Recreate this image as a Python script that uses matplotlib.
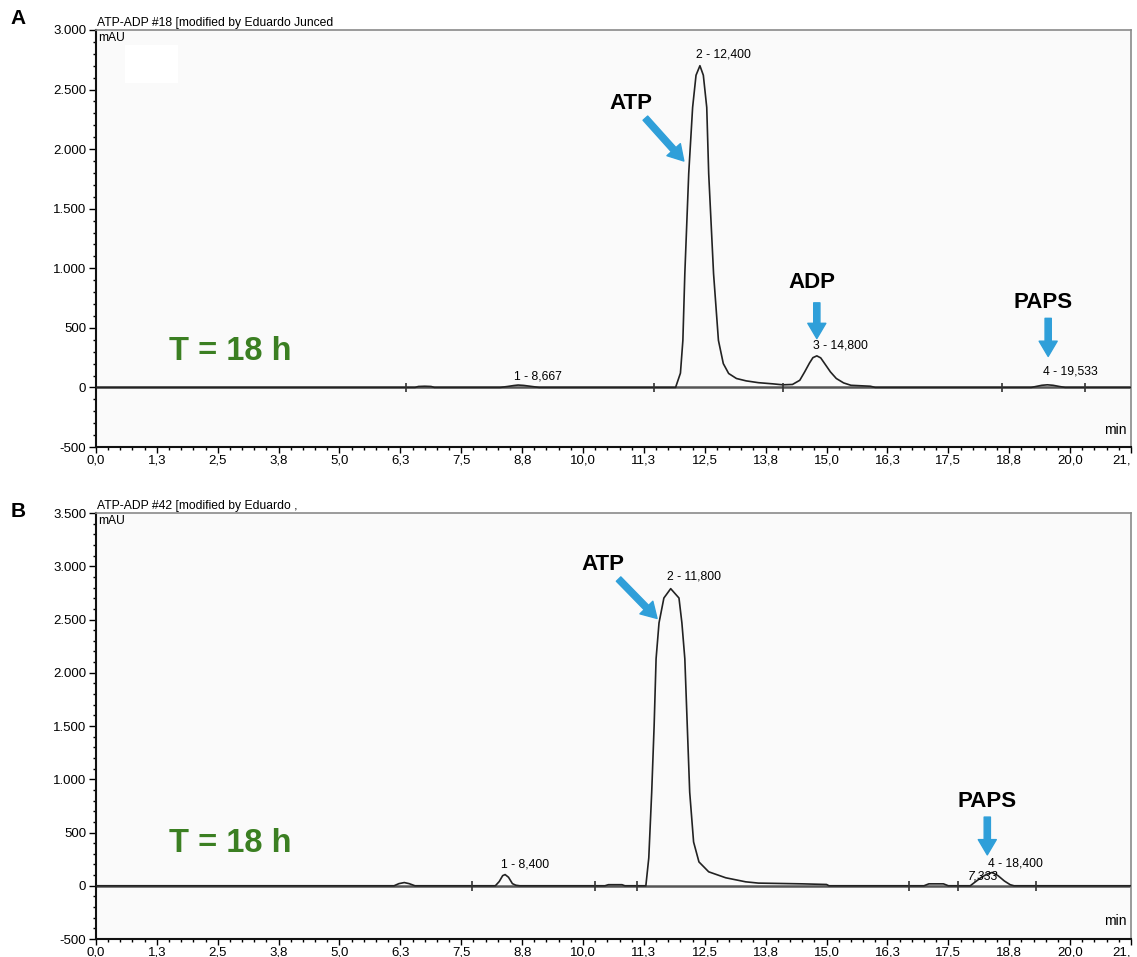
import matplotlib
matplotlib.use("Agg")
import matplotlib.pyplot as plt
from matplotlib.ticker import MultipleLocator, FixedLocator, FuncFormatter
from matplotlib.patches import Rectangle

plt.rcParams["font.family"] = ["Liberation Sans", "DejaVu Sans"]

# ---- panel A : ATP-ADP #18 ----
tiempo_a = [0.0, 6.55, 6.62, 6.75, 6.88, 6.95, 8.3, 8.45, 8.58, 8.667, 8.78, 8.95, 9.1,
            11.45, 11.9, 12.0, 12.05, 12.09, 12.17, 12.25, 12.32, 12.4, 12.47, 12.54,
            12.58, 12.68, 12.78, 12.88, 12.99, 13.15, 13.35, 13.6, 13.9, 14.1, 14.3,
            14.45, 14.55, 14.65, 14.72, 14.8, 14.88, 14.97, 15.08, 15.2, 15.35, 15.5,
            15.9, 16.0, 19.2, 19.3, 19.42, 19.533, 19.65, 19.78, 19.9, 20.3, 21.25]
senal_a = [0, 0, 8, 10, 8, 0, 0, 8, 16, 20, 17, 8, 0,
           0, 0, 120, 395, 955, 1795, 2350, 2620, 2700, 2620, 2350,
           1795, 955, 395, 200, 117, 75, 55, 40, 30, 22, 25,
           60, 130, 205, 250, 265, 248, 195, 130, 75, 38, 18,
           10, 0, 0, 8, 18, 22, 18, 8, 0, 0, 0]
etiquetas_a = ["1 - 8,667", "2 - 12,400", "3 - 14,800", "4 - 19,533"]
picos_t_a = [8.667, 12.4, 14.8, 19.533]
picos_h_a = [20, 2700, 265, 22]
marcas_a = [6.37, 11.45, 14.1, 18.6, 20.3]

# ---- panel B : ATP-ADP #42 ----
tiempo_b = [0.0, 6.12, 6.22, 6.33, 6.43, 6.55, 8.2, 8.28, 8.35, 8.4, 8.47, 8.55, 8.62, 8.7,
            10.45, 10.52, 10.8, 10.86, 11.29, 11.35, 11.41, 11.46, 11.5, 11.56, 11.66,
            11.8, 11.97, 12.03, 12.09, 12.14, 12.19, 12.27, 12.38, 12.58, 12.93, 13.34,
            13.6, 14.5, 15.0, 15.05, 17.0, 17.1, 17.4, 17.5, 17.95, 18.05, 18.18, 18.3,
            18.4, 18.52, 18.65, 18.77, 18.85, 21.25]
senal_b = [0, 0, 20, 30, 20, 0, 0, 40, 95, 105, 80, 20, 5, 0,
           0, 10, 10, 0, 0, 262, 879, 1505, 2132, 2468, 2702,
           2790, 2702, 2468, 2132, 1505, 879, 411, 224, 131, 75, 37,
           25, 18, 12, 0, 0, 18, 18, 0, 0, 35, 80, 110,
           125, 95, 45, 10, 0, 0]
etiquetas_b = ["1 - 8,400", "2 - 11,800", "4 - 18,400"]
picos_t_b = [8.4, 11.8, 18.4]
picos_h_b = [105, 2790, 125]
marcas_b = [7.73, 10.25, 11.1, 16.7, 17.7, 19.3]

VERDE = "#3b7f22"
AZUL = "#2f9fd9"


def fmt_x(v, pos):
    r = int(v * 10 + 0.5) / 10
    if r > 21:
        return "21,"  # la etiqueta final queda cortada en el original
    return f"{r:.1f}".replace(".", ",")


def fmt_y(v, pos):
    return f"{int(round(v)):,}".replace(",", ".")


def preparar_eje(ax, ymax, titulo):
    ax.set_facecolor("#fafafa")
    ax.set_xlim(0, 21.25)
    ax.set_ylim(-500, ymax)
    ax.xaxis.set_major_locator(FixedLocator([i * 1.25 for i in range(18)]))
    ax.xaxis.set_minor_locator(MultipleLocator(0.25))
    ax.yaxis.set_major_locator(MultipleLocator(500))
    ax.yaxis.set_minor_locator(MultipleLocator(100))
    ax.xaxis.set_major_formatter(FuncFormatter(fmt_x))
    ax.yaxis.set_major_formatter(FuncFormatter(fmt_y))
    ax.tick_params(which="major", direction="out", length=5, width=1, labelsize=9.5, pad=2)
    ax.tick_params(which="minor", direction="out", length=2.5, width=1)
    ax.tick_params(axis="x", which="major", length=4, pad=1.5)
    ax.xaxis.get_major_ticks()[-1].label1.set_horizontalalignment("right")
    for lado in ["top", "right"]:
        ax.spines[lado].set_color("#8a8a8a")
        ax.spines[lado].set_linewidth(1.2)
    for lado in ["left", "bottom"]:
        ax.spines[lado].set_color("#111111")
        ax.spines[lado].set_linewidth(1.5)
    ax.axhline(0, color="#555555", lw=1.8, zorder=1)
    ax.text(0.001, 1.003, titulo, transform=ax.transAxes, ha="left", va="bottom", fontsize=8.7)
    ax.text(0.002, 0.995, "mAU", transform=ax.transAxes, ha="left", va="top", fontsize=8.7)
    ax.text(0.996, 0.025, "min", transform=ax.transAxes, ha="right", va="bottom", fontsize=10)


def flecha(ax, xy, xytext):
    ax.annotate("", xy=xy, xytext=xytext,
                arrowprops=dict(facecolor=AZUL, edgecolor=AZUL, width=4.5,
                                headwidth=13, headlength=11, shrink=0))


fig = plt.figure(figsize=(11.37, 9.57), dpi=100)
fig.patch.set_facecolor("white")

ax1 = fig.add_axes([0.0844, 0.5329, 0.9103, 0.4358])
ax2 = fig.add_axes([0.0844, 0.0188, 0.9103, 0.4451])

# panel A
preparar_eje(ax1, 3000, "ATP-ADP #18 [modified by Eduardo Junced")
ax1.add_patch(Rectangle((0.028, 0.873), 0.051, 0.091, transform=ax1.transAxes,
                        facecolor="white", edgecolor="none", zorder=0.5))
ax1.plot(tiempo_a, senal_a, color="#222222", lw=1.2, zorder=3)
ax1.vlines(marcas_a, -40, 40, color="#333333", lw=1.2, zorder=3)
off_a = [25, 40, 35, 60]
for lab, t, h, o in zip(etiquetas_a, picos_t_a, picos_h_a, off_a):
    ax1.text(t - 0.08, h + o, lab, ha="left", va="bottom", fontsize=8.7)
ax1.text(10.98, 2380, "ATP", ha="center", va="center", fontsize=16, fontweight="bold")
flecha(ax1, (12.07, 1900), (11.28, 2260))
ax1.text(14.7, 880, "ADP", ha="center", va="center", fontsize=16, fontweight="bold")
flecha(ax1, (14.8, 410), (14.8, 710))
ax1.text(19.45, 715, "PAPS", ha="center", va="center", fontsize=16, fontweight="bold")
flecha(ax1, (19.55, 260), (19.55, 580))
ax1.text(2.75, 300, "T = 18 h", ha="center", va="center", fontsize=23.5,
         fontweight="bold", color=VERDE)

# panel B
preparar_eje(ax2, 3500, "ATP-ADP #42 [modified by Eduardo ,")
ax2.plot(tiempo_b, senal_b, color="#222222", lw=1.2, zorder=3)
ax2.vlines(marcas_b, -45, 45, color="#333333", lw=1.2, zorder=3)
off_b = [35, 60, 25]
for lab, t, h, o in zip(etiquetas_b, picos_t_b, picos_h_b, off_b):
    ax2.text(t - 0.08, h + o, lab, ha="left", va="bottom", fontsize=8.7)
ax2.text(17.9, 30, "7,333", ha="left", va="bottom", fontsize=8.7, style="italic")
ax2.text(10.4, 3020, "ATP", ha="center", va="center", fontsize=16, fontweight="bold")
flecha(ax2, (11.52, 2510), (10.73, 2880))
ax2.text(18.3, 790, "PAPS", ha="center", va="center", fontsize=16, fontweight="bold")
flecha(ax2, (18.3, 290), (18.3, 645))
ax2.text(2.75, 400, "T = 18 h", ha="center", va="center", fontsize=23.5,
         fontweight="bold", color=VERDE)

fig.text(0.016, 0.981, "A", ha="center", va="center", fontsize=15, fontweight="bold")
fig.text(0.016, 0.465, "B", ha="center", va="center", fontsize=15, fontweight="bold")

fig.savefig("out.png", dpi=100, facecolor="white")
